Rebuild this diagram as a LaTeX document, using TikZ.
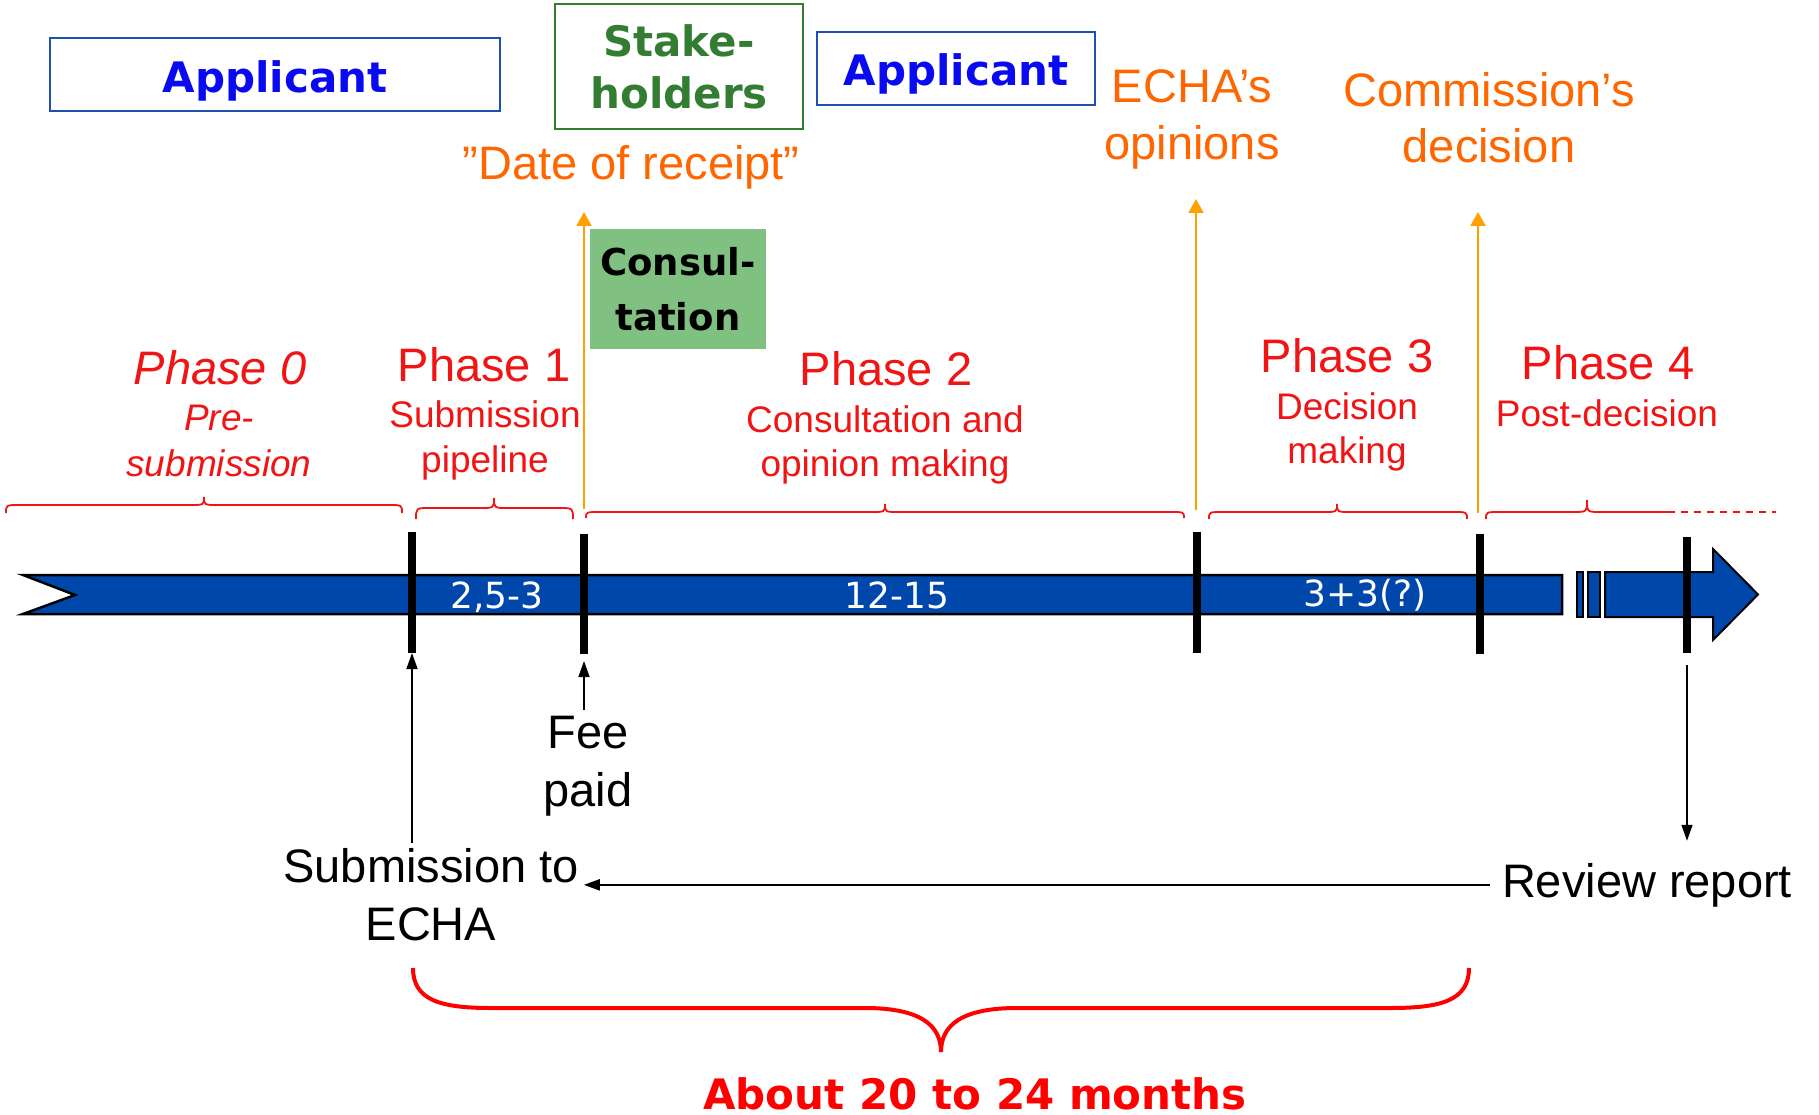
\documentclass[tikz,border=0pt]{standalone}
\usepackage{fontspec}
\setmainfont{Liberation Sans}
\newfontfamily\dvs{DejaVu Sans}
\usetikzlibrary{arrows.meta,calc}
\definecolor{appblue}{RGB}{10,10,240}
\definecolor{boxblue}{RGB}{30,80,180}
\definecolor{stkgreen}{RGB}{50,125,50}
\definecolor{orgtext}{RGB}{255,102,0}
\definecolor{orgline}{RGB}{255,160,0}
\definecolor{phred}{RGB}{240,20,20}
\definecolor{barblue}{RGB}{0,71,171}
\definecolor{consgreen}{RGB}{128,192,128}
\newcommand\fsz[2]{\fontsize{#1}{#2}\selectfont}
% small brace: x1, xm, x2, ytip, yline, ypeak
\newcommand\phbrace[6]{%
  \draw[bracestyle] (#1,#4) .. controls (#1,#5) .. (#1+14,#5) -- (#2-14,#5)
    .. controls (#2,#5) .. (#2,#6) .. controls (#2,#5) .. (#2+14,#5)
    -- (#3-14,#5) .. controls (#3,#5) .. (#3,#4);}
\begin{document}
\begin{tikzpicture}[x=1pt,y=-1pt,
  appbox/.style={draw=boxblue,line width=2pt,text=appblue,font=\dvs\bfseries\fsz{42}{50},inner sep=0pt,text depth=0pt},
  stkbox/.style={draw=stkgreen,line width=2pt,text=stkgreen,font=\dvs\bfseries\fsz{42}{52},align=center,inner sep=0pt,minimum width=248pt,minimum height=125pt},
  conbox/.style={fill=consgreen,text=black,font=\dvs\bfseries\fsz{37}{55},align=center,inner sep=0pt,minimum width=176pt,minimum height=120pt},
  orglabel/.style={text=orgtext,font=\fsz{47}{57},align=center,anchor=base,inner sep=0pt},
  phtitle/.style={text=phred,font=\fsz{47}{57},anchor=base,inner sep=0pt},
  phsub/.style={text=phred,font=\fsz{37}{46},align=center,anchor=base,inner sep=0pt},
  bartext/.style={text=white,font=\dvs\fsz{36}{40},anchor=base,inner sep=0pt},
  blktext/.style={text=black,font=\fsz{47}{58},align=center,anchor=base},
  bracestyle/.style={draw=phred,line width=1.8pt},
  orgarrow/.style={draw=orgline,line width=2pt,-{Triangle[width=15pt,length=14pt]}},
  blkarrow/.style={draw=black,line width=1.5pt,-{Triangle[width=11pt,length=16pt]}},
  tickline/.style={draw=black,line width=8pt},
  barshape/.style={fill=barblue,draw=black,line width=2.5pt,line join=miter}
]
\useasboundingbox (0,0) rectangle (1819,1115);

% top boxes
\node[appbox,minimum width=450pt,minimum height=73pt,text height=36pt] (app1) at (275,74.5) {Applicant};
\node[appbox,minimum width=278pt,minimum height=73pt,text height=34pt] (app2) at (956,68.5) {Applicant};
\node[stkbox] (stk) at (679,66.5) {Stake-\\holders};
\node[orglabel] (dor) at (631,180) {”Date of receipt”};
\node[orglabel] (echa) at (1192,160) {ECHA’s\\opinions};
\node[orglabel,font=\fsz{47}{56}] (comm) at (1489,163) {Commission’s\\decision};
\node[conbox] (cons) at (678,289) {Consul-\\tation};

% phase labels (multi-line nodes anchored on their last baseline)
\node[phtitle,font=\fsz{47}{57}\itshape] (p0) at (220,384) {Phase 0};
\node[phsub,font=\fsz{37}{46}\itshape] (p0s) at (219,476) {Pre-\\submission};
\node[phtitle] (p1) at (484,381) {Phase 1};
\node[phsub,font=\fsz{37}{45}] (p1s) at (485,472) {Submission\\pipeline};
\node[phtitle] (p2) at (886,385) {Phase 2};
\node[phsub,font=\fsz{37}{44}] (p2s) at (885,476) {Consultation and\\opinion making};
\node[phtitle] (p3) at (1347,372) {Phase 3};
\node[phsub,font=\fsz{37}{44}] (p3s) at (1347,463) {Decision\\making};
\node[phtitle] (p4) at (1608,379) {Phase 4};
\node[phsub] (p4s) at (1607,426) {Post-decision};

% braces
\phbrace{6}{204}{402}{513}{505}{497}
\phbrace{416}{494}{573}{519}{508}{498}
\phbrace{586}{885}{1184}{518}{512}{504}
\phbrace{1209}{1337}{1467}{519}{512}{504}
\draw[bracestyle] (1486,519) .. controls (1486,512) .. (1500,512) -- (1573,512)
  .. controls (1587,512) .. (1587,500) .. controls (1587,512) .. (1601,512) -- (1668,512);
\draw[bracestyle,dash pattern=on 7pt off 6pt] (1668,512) -- (1776,512);

% bar
\draw[barshape] (23,575) -- (1562,575) -- (1562,614) -- (23,614) -- (75,595) -- cycle;
\draw[barshape,line width=2pt] (1577,572) rectangle (1583,617);
\draw[barshape,line width=2pt] (1588,572) rectangle (1600,617);
\draw[barshape,line width=2pt] (1605,572) -- (1713,572) -- (1713,549) -- (1758,594.5)
  -- (1713,640) -- (1713,617) -- (1605,617) -- cycle;

\node[bartext] (b1) at (497,608) {2,5-3};
\node[bartext] (b2) at (897,608) {12-15};
\node[bartext] (b3) at (1365,606) {3+3(?)};

% ticks
\coordinate (t1) at (412,532); \coordinate (t1b) at (412,653);
\coordinate (t2) at (584,534); \coordinate (t2b) at (584,654);
\coordinate (t3) at (1197,532); \coordinate (t3b) at (1197,653);
\coordinate (t4) at (1480,534); \coordinate (t4b) at (1480,654);
\coordinate (t5) at (1687,537); \coordinate (t5b) at (1687,653);
\foreach \a/\b in {t1/t1b,t2/t2b,t3/t3b,t4/t4b,t5/t5b} \draw[tickline] (\a) -- (\b);

% orange arrows
\coordinate (o1) at (584,509); \coordinate (o1tip) at (584,212);
\coordinate (o2) at (1196,510); \coordinate (o2tip) at (1196,199);
\coordinate (o3) at (1478,513); \coordinate (o3tip) at (1478,212);
\draw[orgarrow] (o1) -- (o1tip);
\draw[orgarrow] (o2) -- (o2tip);
\draw[orgarrow] (o3) -- (o3tip);

% lower labels
\node[blktext,inner sep=5pt] (fee) at (588,806) {Fee\\paid};
\node[blktext,inner sep=5pt] (sub) at (431,940) {Submission to\\ECHA};
\node[blktext,inner sep=12pt] (rr) at (1647,897) {Review report};

\draw[blkarrow] (t1b |- sub.north) -- (t1b);
\draw[blkarrow,shorten >=7pt] (t2b |- fee.north) -- (t2b);
\draw[blkarrow,shorten <=12pt,shorten >=10pt] (t5b) -- (t5b |- rr.north);
\draw[blkarrow,line width=2.2pt] (rr.west) -- (rr.west -| sub.east);

% big brace
\draw[draw=red,line width=4pt] (413,968) .. controls (413,1000) and (440,1008) .. (491,1008)
  -- (865,1008) .. controls (920,1008) and (941,1025) .. (941,1052)
  .. controls (941,1025) and (962,1008) .. (1017,1008) -- (1391,1008)
  .. controls (1442,1008) and (1469,1000) .. (1469,968);
\node[text=red,font=\dvs\bfseries\fsz{42}{50},anchor=base,inner sep=0pt] (about) at (975,1109) {About 20 to 24 months};
\end{tikzpicture}
\end{document}
